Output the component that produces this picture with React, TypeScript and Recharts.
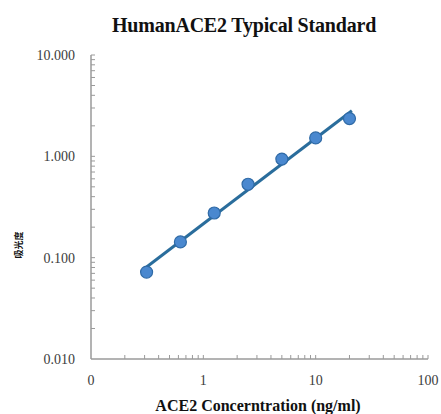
// Human ACE2 ELISA standard curve on log-log axes

import {
  ComposedChart,
  Line,
  Scatter,
  XAxis,
  YAxis,
} from "recharts";

// standard concentrations (ng/ml) and measured OD
const concentrations = [0.3125, 0.625, 1.25, 2.5, 5, 10, 20];
const odValues = [0.072, 0.143, 0.276, 0.53, 0.94, 1.52, 2.36];

// fitted line end points
const fitConcentrations = [0.3125, 21];
const fitOdValues = [0.081, 2.82];

const xMajorTicks = [0.1, 1, 10, 100];
const xMinorTicks = [0.2, 0.3, 0.4, 0.5, 0.6, 0.7, 0.8, 0.9, 2, 3, 4, 5, 6, 7, 8, 9, 20, 30, 40, 50, 60, 70, 80, 90];
const yMajorTicks = [0.01, 0.1, 1, 10];
const yMinorTicks = [0.02, 0.03, 0.04, 0.05, 0.06, 0.07, 0.08, 0.09, 0.2, 0.3, 0.4, 0.5, 0.6, 0.7, 0.8, 0.9, 2, 3, 4, 5, 6, 7, 8, 9];

const points = concentrations.map((c, i) => ({ conc: c, od: odValues[i] }));
const fit = fitConcentrations.map((c, i) => ({ conc: c, od: fitOdValues[i] }));

const xTicks = [...xMajorTicks, ...xMinorTicks].sort((a, b) => a - b);
const yTicks = [...yMajorTicks, ...yMinorTicks].sort((a, b) => a - b);

const SERIF = "'Liberation Serif', 'Times New Roman', serif";
const AXIS = "#9a9a9a";
const LABEL = "#3c3c3c";

const xLabel = (v: number) => (v === 0.1 ? "0" : String(v));

const XTick = (props: any) => {
  const { x, y, payload } = props;
  const major = xMajorTicks.includes(payload.value);
  return (
    <g>
      {payload.value !== 0.1 && (
        <line x1={x} y1={y} x2={x} y2={y - 4} stroke={AXIS} strokeWidth={1} />
      )}
      {major && (
        <text x={x} y={y + 26} textAnchor="middle" fontFamily={SERIF} fontSize={14} fill={LABEL}>
          {xLabel(payload.value)}
        </text>
      )}
    </g>
  );
};

const YTick = (props: any) => {
  const { x, y, payload } = props;
  const major = yMajorTicks.includes(payload.value);
  return (
    <g>
      {payload.value !== 0.01 && (
        <line x1={x} y1={y} x2={x + 4} y2={y} stroke={AXIS} strokeWidth={1} />
      )}
      {major && (
        <text x={x - 16} y={y + 5} textAnchor="end" fontFamily={SERIF} fontSize={14} fill={LABEL}>
          {payload.value.toFixed(3)}
        </text>
      )}
    </g>
  );
};

const Dot = (props: any) => {
  const { cx, cy } = props;
  return <circle cx={cx} cy={cy} r={6} fill="#4a88cf" stroke="#2f6aa6" strokeWidth={1.2} />;
};

export default function App() {
  return (
    <div style={{ position: "relative", width: 441, height: 414, background: "#fff" }}>
      <style>{"body{margin:0}"}</style>
      <ComposedChart
        width={441}
        height={414}
        margin={{ top: 55, right: 13, bottom: 0, left: 0 }}
      >
        <XAxis
          dataKey="conc"
          type="number"
          scale="log"
          domain={[0.1, 100]}
          allowDataOverflow
          ticks={xTicks}
          interval={0}
          tick={<XTick />}
          tickSize={0}
          tickMargin={0}
          tickLine={false}
          axisLine={{ stroke: AXIS, strokeWidth: 1.5 }}
          height={55}
        />
        <YAxis
          dataKey="od"
          type="number"
          scale="log"
          domain={[0.01, 10]}
          allowDataOverflow
          ticks={yTicks}
          interval={0}
          tick={<YTick />}
          tickSize={0}
          tickMargin={0}
          tickLine={false}
          axisLine={{ stroke: AXIS, strokeWidth: 1.5 }}
          width={91}
        />
        <Line
          data={fit}
          dataKey="od"
          type="linear"
          stroke="#2a6d9c"
          strokeWidth={3}
          dot={false}
          activeDot={false}
          isAnimationActive={false}
        />
        <Scatter data={points} dataKey="od" shape={<Dot />} isAnimationActive={false} />
      </ComposedChart>
      <svg
        width={441}
        height={414}
        style={{ position: "absolute", left: 0, top: 0, pointerEvents: "none" }}
      >
        <text x={244} y={32} textAnchor="middle" fontFamily={SERIF} fontWeight="bold" fontSize={20} letterSpacing={-0.2} fill="#111">
          HumanACE2 Typical Standard
        </text>
        <text x={258} y={411} textAnchor="middle" fontFamily={SERIF} fontWeight="bold" fontSize={16} fill="#111">
          ACE2 Concerntration (ng/ml)
        </text>
        <text
          x={22}
          y={245}
          transform="rotate(-90 22 245)"
          textAnchor="middle"
          fontFamily="'Noto Sans CJK SC', sans-serif"
          fontWeight="bold"
          fontSize={9}
          fill="#111"
        >
          吸光度
        </text>
      </svg>
    </div>
  );
}
